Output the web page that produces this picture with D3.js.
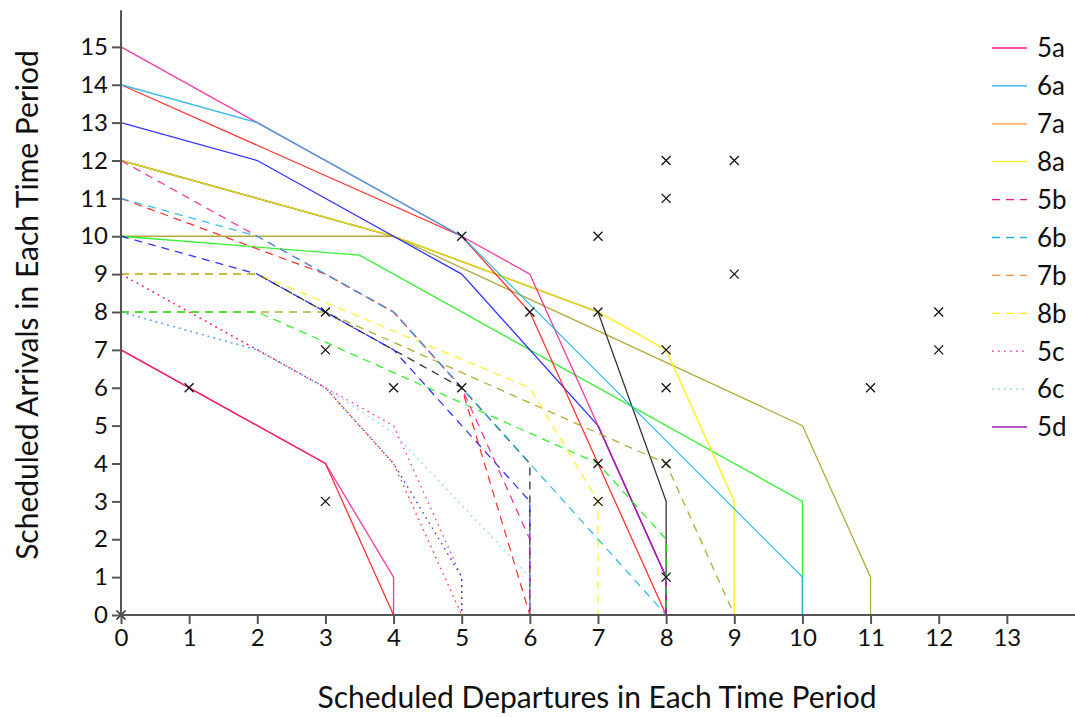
<!DOCTYPE html>
<html>
<head>
<meta charset="utf-8">
<script src="https://cdn.jsdelivr.net/npm/d3@7"></script>
<style>
  html, body { margin: 0; padding: 0; background: #fff; }
  svg { display: block; font-family: Lato, "DejaVu Sans", sans-serif; }
</style>
</head>
<body>
<div id="chart"></div>
<script>
// ---------- data ----------
const xTicks = [0,1,2,3,4,5,6,7,8,9,10,11,12,13];
const yTicks = [0,1,2,3,4,5,6,7,8,9,10,11,12,13,14,15];
const xLabel = "Scheduled Departures in Each Time Period";
const yLabel = "Scheduled Arrivals in Each Time Period";

const legendLabels = ["5a","6a","7a","8a","5b","6b","7b","8b","5c","6c","5d"];

// solid envelopes
const oliveSolid   = [[0,10],[4,10],[10,5],[11,1],[11,0]];
const greenSolid   = [[0,10],[3.5,9.5],[10,3],[10,0]];
const blackSolid   = [[0,12],[4,10],[7,8],[8,3],[8,0]];
const yellowSolid  = [[0,12],[4,10],[7,8],[8,7],[9,3],[9,0]];
const blueSolid    = [[0,13],[2,12],[5,9],[7,5],[8,1],[8,0]];
const redSolid     = [[0,14],[5,10],[6,8],[8,0]];
const magentaSolid = [[0,15],[2,13],[5,10],[6,9],[8,1],[8,0]];
const cyanSolid    = [[0,14],[2,13],[5,10],[10,1],[10,0]];
const purpleSolid  = [[7,5],[8,1],[8,0]];
const redLow       = [[0,7],[3,4],[4,0]];
const magentaLow   = [[0,7],[3,4],[4,1],[4,0]];

// dashed envelopes
const oliveDashed   = [[0,8],[3,8],[8,4],[9,0]];
const greenDashed   = [[0,8],[2,8],[7,4],[8,2],[8,0]];
const blackDashed   = [[0,9],[2,9],[4,7],[5,6],[6,4],[6,0]];
const yellowDashed  = [[0,9],[2,9],[6,6],[7,3],[7,0]];
const blueDashed    = [[0,10],[2,9],[4,7],[6,3],[6,0]];
const redDashed     = [[0,11],[3,9],[4,8],[5,6],[6,0]];
const magentaDashed = [[0,12],[2,10],[4,8],[5,6],[6,2],[6,0]];
const cyanDashed    = [[0,11],[2,10],[4,8],[8,0]];

// dotted envelopes
const redDotted     = [[0,9],[3,6],[4,4],[5,0]];
const magentaDotted = [[0,9],[3,6],[4,5],[5,1],[5,0]];
const blueDotted    = [[0,8],[2,7],[3,6],[4,4],[5,1],[5,0]];
const cyanDotted    = [[0,8],[2,7],[3,6],[4,4.8],[6,1],[6,0]];

// single scenario points (crosses)
const crossX = [0,1,3,3,3,4,5,5,6,7,7,7,7,8,8,8,8,8,8,9,9,11,12,12];
const crossY = [0,6,3,7,8,6,6,10,8,10,8,4,3,12,11,7,6,4,1,12,9,6,8,7];

// ---------- styles ----------
const C = {
  magenta: "#f0178f", cyan: "#1ab0e8", red: "#ff1010", blue: "#1010ff",
  green: "#10ee10", olive: "#a49c18", yellow: "#ffee10", black: "#111111",
  purple: "#a01cb4", orange: "#ff8c3c", lightcyan: "#6ccff5"
};
const DASH = "8,6", DOT = "1.6,4.4";

const plotSeries = [
  {d: oliveSolid,   c: C.olive,   dash: null},
  {d: greenSolid,   c: C.green,   dash: null},
  {d: blackSolid,   c: C.black,   dash: null},
  {d: yellowSolid,  c: C.yellow,  dash: null, w: 1.6},
  {d: blueSolid,    c: C.blue,    dash: null},
  {d: redSolid,     c: C.red,     dash: null},
  {d: magentaSolid, c: C.magenta, dash: null},
  {d: cyanSolid,    c: C.cyan,    dash: null},
  {d: purpleSolid,  c: C.purple,  dash: null},
  {d: redLow,       c: C.red,     dash: null},
  {d: magentaLow,   c: C.magenta, dash: null},
  {d: oliveDashed,  c: C.olive,   dash: DASH},
  {d: greenDashed,  c: C.green,   dash: DASH},
  {d: blackDashed,  c: C.black,   dash: DASH},
  {d: yellowDashed, c: C.yellow,  dash: DASH},
  {d: blueDashed,   c: C.blue,    dash: DASH},
  {d: redDashed,    c: C.red,     dash: DASH},
  {d: magentaDashed,c: C.magenta, dash: DASH},
  {d: cyanDashed,   c: C.cyan,    dash: DASH},
  {d: redDotted,    c: C.red,     dash: DOT},
  {d: magentaDotted,c: C.magenta, dash: DOT},
  {d: blueDotted,   c: C.blue,    dash: DOT},
  {d: cyanDotted,   c: C.lightcyan, dash: DOT}
];

const legendStyles = [
  {c: C.magenta, dash: null}, {c: C.cyan, dash: null}, {c: C.orange, dash: null}, {c: C.yellow, dash: null},
  {c: C.magenta, dash: DASH}, {c: C.cyan, dash: DASH}, {c: C.orange, dash: DASH}, {c: C.yellow, dash: DASH},
  {c: C.magenta, dash: DOT}, {c: C.lightcyan, dash: DOT}, {c: C.purple, dash: null}
];

// ---------- chart ----------
const W = 1075, H = 717;
const margin = {left: 121, right: 0, top: 9, bottom: 102};
const svg = d3.select("#chart").append("svg").attr("width", W).attr("height", H);

const x = d3.scaleLinear().domain([0,14]).range([margin.left, W - margin.right]);
const y = d3.scaleLinear().domain([0,16]).range([H - margin.bottom, margin.top]);

const line = d3.line().x(p => x(p[0])).y(p => y(p[1]));

const plot = svg.append("g");
plotSeries.forEach(s => {
  plot.append("path")
    .attr("d", line(s.d))
    .attr("fill", "none")
    .attr("stroke", s.c)
    .attr("stroke-width", s.w || 1.3)
    .attr("stroke-opacity", 0.85)
    .attr("stroke-dasharray", s.dash);
});

// crosses
const cs = 4.5;
const crosses = svg.append("g");
crossX.forEach((cx, i) => {
  const px = x(cx), py = y(crossY[i]);
  crosses.append("path")
    .attr("d", `M${px-cs},${py-cs}L${px+cs},${py+cs}M${px-cs},${py+cs}L${px+cs},${py-cs}`)
    .attr("stroke", "#111").attr("stroke-width", 1.3).attr("fill", "none");
});

// axes
const axisColor = "#555";
const xAxis = svg.append("g").attr("transform", `translate(0,${y(0)})`)
  .call(d3.axisBottom(x).tickValues(xTicks).tickSize(9).tickPadding(5).tickFormat(d3.format("d")));
const yAxis = svg.append("g").attr("transform", `translate(${x(0)},0)`)
  .call(d3.axisLeft(y).tickValues(yTicks).tickSize(9).tickPadding(4).tickFormat(d3.format("d")));
[xAxis, yAxis].forEach(g => {
  g.select(".domain").attr("stroke", axisColor).attr("stroke-width", 2);
  g.selectAll(".tick line").attr("stroke", axisColor).attr("stroke-width", 2);
  g.selectAll(".tick text").attr("fill", "#111").style("font-size", "24px")
    .style("font-family", "Lato, 'DejaVu Sans', sans-serif");
});
xAxis.select(".domain").attr("d", `M${x(0)},0H${W}`);
yAxis.select(".domain").attr("d", `M0,${y(0)}V${y(15.97)}`);

// axis labels
svg.append("text")
  .attr("x", 597).attr("y", 708)
  .attr("text-anchor", "middle")
  .style("font-size", "30px").attr("fill", "#111")
  .text(xLabel);
svg.append("text")
  .attr("transform", `translate(38,${305}) rotate(-90)`)
  .attr("text-anchor", "middle")
  .style("font-size", "30px").attr("fill", "#111")
  .text(yLabel);

// legend
const leg = svg.append("g");
legendLabels.forEach((lab, i) => {
  const ly = 48 + i * 37.9;
  const st = legendStyles[i];
  leg.append("line")
    .attr("x1", 992).attr("x2", 1027).attr("y1", ly).attr("y2", ly)
    .attr("stroke", st.c).attr("stroke-width", 1.3).attr("stroke-dasharray", st.dash);
  leg.append("text")
    .attr("x", 1037).attr("y", ly).attr("dy", "0.36em")
    .style("font-size", "26px").attr("fill", "#111")
    .text(lab);
});
</script>
</body>
</html>
